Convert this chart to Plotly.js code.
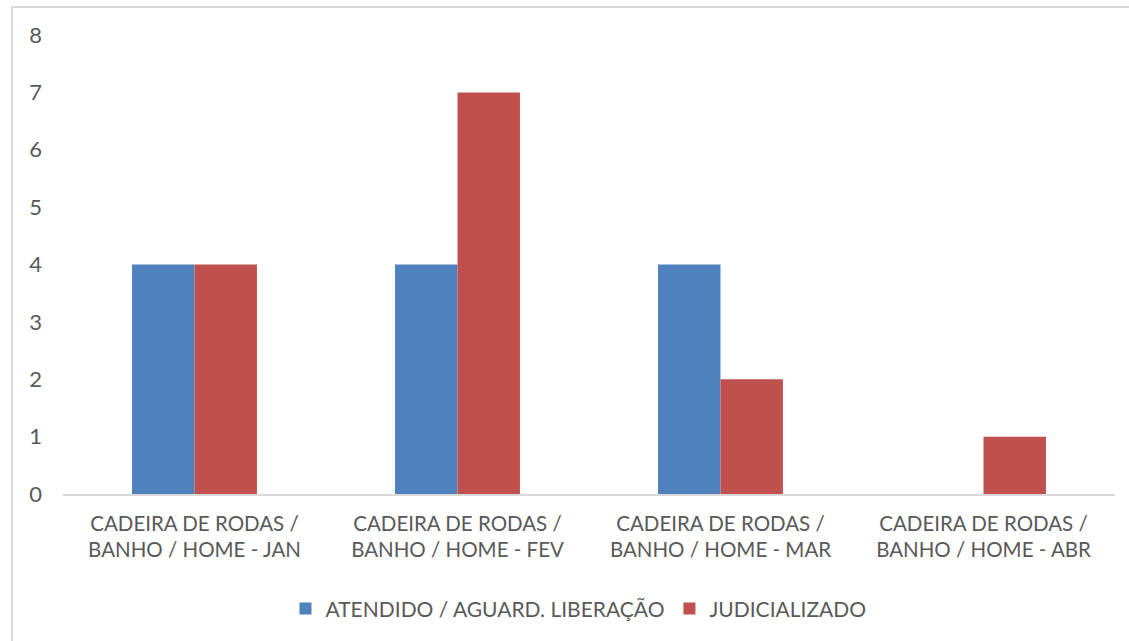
<!DOCTYPE html>
<html><head><meta charset="utf-8">
<script src="https://cdn.plot.ly/plotly-3.0.1.min.js"></script>
<style>
html,body{margin:0;padding:0;overflow:hidden;background:#fff;width:1129px;height:641px;}
#frame{position:absolute;left:11px;top:6px;width:1200px;height:700px;border:2px solid #d9d9d9;pointer-events:none;box-sizing:border-box;}
#chart{position:absolute;left:0;top:0;width:1129px;height:641px;}
</style></head>
<body>
<div id="chart"></div>
<div id="frame"></div>
<script>
const categories = [
  "CADEIRA DE RODAS /<br>BANHO / HOME - JAN",
  "CADEIRA DE RODAS /<br>BANHO / HOME - FEV",
  "CADEIRA DE RODAS /<br>BANHO / HOME - MAR",
  "CADEIRA DE RODAS /<br>BANHO / HOME - ABR"
];
const atendido = [4, 4, 4, null];
const judicializado = [4, 7, 2, 1];
const seriesNames = ["ATENDIDO / AGUARD. LIBERAÇÃO", "JUDICIALIZADO"];

const fam = "Lato, 'Open Sans', sans-serif";
const col = "#595959";
const traces = [
  {type: "bar", x: categories, y: atendido, name: seriesNames[0],
   marker: {color: "#4f81bd", line: {width: 0}}},
  {type: "bar", x: categories, y: judicializado, name: seriesNames[1],
   marker: {color: "#c0504d", line: {width: 0}}}
];
const layout = {
  width: 1129, height: 641,
  margin: {l: 63, r: 14, t: 35, b: 147},
  paper_bgcolor: "#ffffff", plot_bgcolor: "#ffffff",
  font: {family: fam, size: 20, color: col},
  barmode: "group", bargap: 0.525, bargroupgap: 0,
  showlegend: true,
  legend: {orientation: "h", x: 0.49, xanchor: "center", y: -0.25, yanchor: "middle",
           font: {family: fam, size: 21, color: col}, itemwidth: 30, traceorder: "normal"},
  xaxis: {type: "category", showline: true, linecolor: "#d9d9d9", linewidth: 2,
          ticks: "", showgrid: false, tickfont: {family: fam, size: 20.5, color: col},
          ticklabelstandoff: 10, automargin: false},
  yaxis: {range: [0, 8], dtick: 1, showgrid: false, zeroline: false, showline: false,
          ticks: "", tickfont: {family: fam, size: 22, color: col},
          ticklabelstandoff: 20, automargin: false}
};
Plotly.newPlot("chart", traces, layout, {displayModeBar: false, staticPlot: true});
</script>
</body></html>
